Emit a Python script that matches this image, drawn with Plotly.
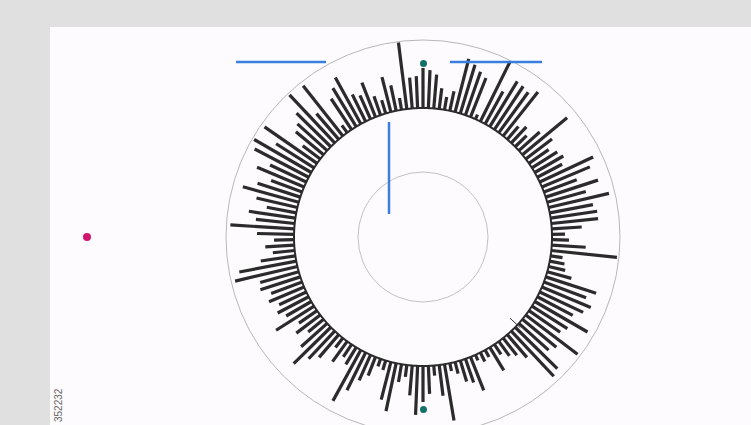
import plotly.graph_objects as go

# ---------------- data ----------------
# bar lengths, clockwise from the top (150 bars, evenly spaced)
bar_lengths = [
    40, 38, 34, 21, 13, 20, 55, 51, 46, 42, 5, 67, 37, 53, 52, 50, 56, 17, 22, 16,
    28, 58, 33, 24, 30, 33, 28, 59, 52, 35, 55, 40, 62, 44, 47, 47, 30, 13,
    17, 34, 66, 12, 15, 17, 25, 53, 45, 53, 48, 40, 61, 42, 38, 65, 44, 40, 59, 62,
    30, 22, 18, 12, 27, 8, 10, 6, 36, 25, 22, 12, 8, 57, 31, 10, 28,
    36, 49, 30, 12, 18, 49, 39, 10, 8, 20, 28, 42, 58, 20, 15, 25, 12, 30, 38, 52,
    35, 20, 30, 22, 45, 29, 35, 30, 38, 33, 42, 40, 64, 58, 35, 22, 29, 20,
    37, 64, 39, 47, 30, 42, 58, 45, 33, 51, 40, 61, 66, 45, 64, 22, 36, 40, 48, 66,
    34, 64, 9, 37, 45, 53, 30, 26, 37, 20, 14, 36, 26, 12, 67, 31, 32,
]
N = len(bar_lengths)
bar_angles = [i * 360.0 / N for i in range(N)]

R_MAX = 197      # outer circle of the radial axis
R_INNER = 65     # inner reference circle
R_BASE = 129     # baseline ring the bars grow from

marker_line_angle = 133
marker_line_r = [119, 133]

# ---------------- figure ----------------
W, H = 751, 450
CX, CY = 423, 237

r_vals, t_vals = [], []
for a, v in zip(bar_angles, bar_lengths):
    r_vals += [R_BASE, R_BASE + v, None]
    t_vals += [a, a, None]

fig = go.Figure()

# cartesian pixel-space helper axes for decorations
fig.add_trace(go.Scatter(x=[0, W], y=[0, H], mode="markers",
                         marker=dict(opacity=0), hoverinfo="skip", showlegend=False))

fig.add_trace(go.Scatterpolar(
    r=r_vals, theta=t_vals, mode="lines",
    line=dict(color="#2b2b2b", width=3.2), connectgaps=False,
    hoverinfo="skip", showlegend=False))

ring_theta = list(range(0, 361))
fig.add_trace(go.Scatterpolar(
    r=[R_BASE] * len(ring_theta), theta=ring_theta, mode="lines",
    line=dict(color="#2b2b2b", width=2), hoverinfo="skip", showlegend=False))

fig.add_trace(go.Scatterpolar(
    r=marker_line_r, theta=[marker_line_angle] * 2, mode="lines",
    line=dict(color="#333333", width=1), hoverinfo="skip", showlegend=False))

fig.update_layout(
    width=W, height=H,
    margin=dict(l=0, r=0, t=0, b=0),
    paper_bgcolor="#e0e0e0",
    plot_bgcolor="rgba(0,0,0,0)",
    showlegend=False,
    xaxis=dict(range=[0, W], visible=False, fixedrange=True, domain=[0, 1]),
    yaxis=dict(range=[H, 0], visible=False, fixedrange=True, domain=[0, 1]),
    polar=dict(
        domain=dict(x=[(CX - R_MAX) / W, (CX + R_MAX) / W],
                    y=[(H - CY - R_MAX) / H, (H - CY + R_MAX) / H]),
        bgcolor="rgba(0,0,0,0)",
        radialaxis=dict(range=[0, R_MAX], showticklabels=False, ticks="",
                        showline=False, tickvals=[R_INNER], showgrid=True,
                        gridcolor="#c2c2c2", gridwidth=1),
        angularaxis=dict(rotation=90, direction="clockwise", showgrid=False,
                         showticklabels=False, ticks="", showline=True,
                         linecolor="#b8b8b8", linewidth=1),
    ),
    shapes=[
        dict(type="rect", xref="x", yref="y", x0=50, x1=W, y0=27, y1=H,
             fillcolor="#fdfbfd", line=dict(width=0), layer="below"),
        dict(type="line", xref="x", yref="y", x0=236, x1=326, y0=62, y1=62,
             line=dict(color="#3a7fdd", width=2.5), layer="above"),
        dict(type="line", xref="x", yref="y", x0=450, x1=542, y0=62, y1=62,
             line=dict(color="#3a7fdd", width=2.5), layer="above"),
        dict(type="line", xref="x", yref="y", x0=389, x1=389, y0=122, y1=214,
             line=dict(color="#3a7fdd", width=2.5), layer="above"),
        dict(type="circle", xref="x", yref="y", x0=420, x1=427, y0=60, y1=67,
             fillcolor="#13716a", line=dict(width=0), layer="above"),
        dict(type="circle", xref="x", yref="y", x0=420, x1=427, y0=406, y1=413,
             fillcolor="#13716a", line=dict(width=0), layer="above"),
        dict(type="circle", xref="x", yref="y", x0=83, x1=91, y0=233, y1=241,
             fillcolor="#d0166f", line=dict(width=0), layer="above"),
    ],
    annotations=[
        dict(x=58, y=405, xref="x", yref="y", text="352232", showarrow=False,
             textangle=-90, font=dict(size=10, color="#666666",
                                      family="Liberation Sans, Arial"))
    ],
)

fig.write_html("out.html",
               config={"displayModeBar": False},
               post_script="document.body.style.margin='0';"
                           "document.documentElement.style.overflow='hidden';"
                           "document.body.style.overflow='hidden';")
